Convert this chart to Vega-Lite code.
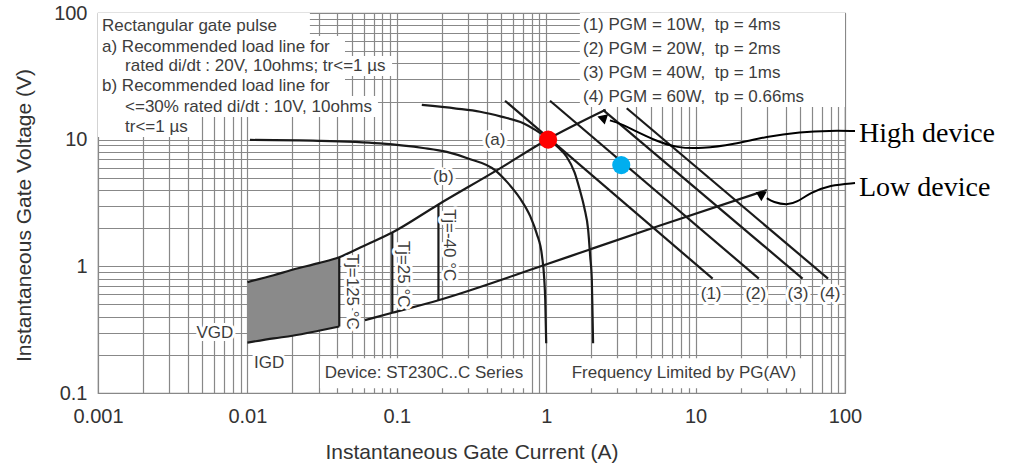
{
  "$schema": "https://vega.github.io/schema/vega-lite/v6.json",
  "width": 747,
  "height": 380,
  "autosize": {"type": "none"},
  "padding": {"left": 98, "top": 13, "right": 168, "bottom": 73},
  "background": "white",
  "config": {
    "view": {"stroke": "#8c8c8c", "strokeWidth": 1.2},
    "axis": {
      "grid": true,
      "gridColor": "#888888",
      "gridWidth": 1.2,
      "ticks": false,
      "tickSize": 0,
      "domain": false,
      "labelFont": "Liberation Sans",
      "labelFontSize": 20,
      "labelColor": "#333333",
      "labelFlush": false,
      "labelOverlap": false,
      "titleFont": "Liberation Sans",
      "titleFontSize": 21,
      "titleFontWeight": "normal",
      "titleColor": "#333333"
    }
  },
  "datasets": {
    "boxes": [
      {"I": 0.001, "I2": 0.0262, "V": 100, "V2": 65.8},
      {"I": 0.001, "I2": 0.045, "V": 65.8, "V2": 45.8},
      {"I": 0.001, "I2": 0.093, "V": 45.8, "V2": 31.8},
      {"I": 0.001, "I2": 0.045, "V": 31.8, "V2": 22.1},
      {"I": 0.001, "I2": 0.0748, "V": 22.1, "V2": 15.1},
      {"I": 0.001, "I2": 0.00446, "V": 15.1, "V2": 10.5},
      {"I": 1.68, "I2": 100, "V": 100, "V2": 18.1},
      {"I": 0.0306, "I2": 0.755, "V": 0.188, "V2": 0.109},
      {"I": 1.4, "I2": 52.4, "V": 0.188, "V2": 0.109}
    ],
    "shade": [
      {"I": 0.01, "V": 0.75, "V2": 0.25},
      {"I": 0.015, "V": 0.85, "V2": 0.27},
      {"I": 0.02, "V": 0.94, "V2": 0.283},
      {"I": 0.03, "V": 1.06, "V2": 0.31},
      {"I": 0.0412, "V": 1.18, "V2": 0.335}
    ],
    "curves": [
      {"id": "a", "I": 0.147, "V": 18.8},
      {"id": "a", "I": 0.25, "V": 17.6},
      {"id": "a", "I": 0.361, "V": 16.6},
      {"id": "a", "I": 0.5, "V": 15.2},
      {"id": "a", "I": 0.703, "V": 13.5},
      {"id": "a", "I": 0.85, "V": 11.9},
      {"id": "a", "I": 1.05, "V": 10.0},
      {"id": "a", "I": 1.2, "V": 8.7},
      {"id": "a", "I": 1.37, "V": 7.33},
      {"id": "a", "I": 1.55, "V": 5.5},
      {"id": "a", "I": 1.68, "V": 4.0},
      {"id": "a", "I": 1.8, "V": 2.9},
      {"id": "a", "I": 1.91, "V": 1.93},
      {"id": "a", "I": 1.97, "V": 1.2},
      {"id": "a", "I": 2.02, "V": 0.778},
      {"id": "a", "I": 2.04, "V": 0.45},
      {"id": "a", "I": 2.06, "V": 0.247},
      {"id": "b", "I": 0.0104, "V": 9.95},
      {"id": "b", "I": 0.03, "V": 9.8},
      {"id": "b", "I": 0.0772, "V": 9.35},
      {"id": "b", "I": 0.15, "V": 8.6},
      {"id": "b", "I": 0.216, "V": 8.0},
      {"id": "b", "I": 0.3, "V": 7.1},
      {"id": "b", "I": 0.454, "V": 5.75},
      {"id": "b", "I": 0.55, "V": 4.6},
      {"id": "b", "I": 0.668, "V": 3.44},
      {"id": "b", "I": 0.78, "V": 2.5},
      {"id": "b", "I": 0.863, "V": 1.82},
      {"id": "b", "I": 0.938, "V": 1.2},
      {"id": "b", "I": 0.97, "V": 0.8},
      {"id": "b", "I": 0.985, "V": 0.55},
      {"id": "b", "I": 1.0, "V": 0.247},
      {"id": "upper", "I": 0.01, "V": 0.75},
      {"id": "upper", "I": 0.015, "V": 0.85},
      {"id": "upper", "I": 0.02, "V": 0.94},
      {"id": "upper", "I": 0.03, "V": 1.06},
      {"id": "upper", "I": 0.0412, "V": 1.18},
      {"id": "upper", "I": 0.06, "V": 1.45},
      {"id": "upper", "I": 0.0933, "V": 1.85},
      {"id": "upper", "I": 0.19, "V": 3.08},
      {"id": "upper", "I": 0.469, "V": 5.75},
      {"id": "upper", "I": 1.0, "V": 9.9},
      {"id": "upper", "I": 2.5, "V": 17.2},
      {"id": "lower1", "I": 0.01, "V": 0.25},
      {"id": "lower1", "I": 0.015, "V": 0.27},
      {"id": "lower1", "I": 0.02, "V": 0.283},
      {"id": "lower1", "I": 0.03, "V": 0.31},
      {"id": "lower1", "I": 0.0412, "V": 0.335},
      {"id": "lower2", "I": 0.0612, "V": 0.376},
      {"id": "lower2", "I": 0.0933, "V": 0.43},
      {"id": "lower2", "I": 0.19, "V": 0.54},
      {"id": "lower2", "I": 0.94, "V": 1.01},
      {"id": "lower2", "I": 1.96, "V": 1.36},
      {"id": "lower2", "I": 5.78, "V": 2.1},
      {"id": "lower2", "I": 30, "V": 4.0},
      {"id": "tj125", "I": 0.0412, "V": 0.335},
      {"id": "tj125", "I": 0.0412, "V": 1.18},
      {"id": "tj25", "I": 0.0933, "V": 0.43},
      {"id": "tj25", "I": 0.0933, "V": 1.85},
      {"id": "tjm40", "I": 0.19, "V": 0.54},
      {"id": "tjm40", "I": 0.19, "V": 3.08},
      {"id": "p1", "I": 0.53, "V": 20.3},
      {"id": "p1", "I": 13, "V": 0.8},
      {"id": "p2", "I": 1.06, "V": 20.3},
      {"id": "p2", "I": 26.5, "V": 0.8},
      {"id": "p3", "I": 2.4, "V": 17.2},
      {"id": "p3", "I": 52, "V": 0.8},
      {"id": "p4", "I": 3.46, "V": 17.7},
      {"id": "p4", "I": 77, "V": 0.8}
    ],
    "labels": [
      {"kind": "c", "t": "(a)", "I": 0.454, "V": 9.93},
      {"kind": "c", "t": "(b)", "I": 0.2047, "V": 5.09},
      {"kind": "c", "t": "VGD", "I": 0.00606, "V": 0.295},
      {"kind": "c", "t": "IGD", "I": 0.01396, "V": 0.171},
      {"kind": "c", "t": "(1)", "I": 12.7, "V": 0.603},
      {"kind": "c", "t": "(2)", "I": 25.3, "V": 0.603},
      {"kind": "c", "t": "(3)", "I": 48.4, "V": 0.603},
      {"kind": "c", "t": "(4)", "I": 79.4, "V": 0.603},
      {"kind": "c", "t": "Device: ST230C..C Series", "I": 0.152, "V": 0.1434},
      {"kind": "c", "t": "Frequency Limited by PG(AV)", "I": 8.36, "V": 0.1434},
      {"kind": "r", "t": "Tj=125 °C", "I": 0.0499, "V": 0.63},
      {"kind": "r", "t": "Tj=25 °C", "I": 0.11, "V": 0.868},
      {"kind": "r", "t": "Tj=-40 °C", "I": 0.2236, "V": 1.47}
    ],
    "notes": [
      {"t": "Rectangular gate pulse", "I": 0.001064, "V": 78.9},
      {"t": "a) Recommended load line for", "I": 0.001064, "V": 54.2},
      {"t": "rated di/dt : 20V, 10ohms; tr<=1 µs", "I": 0.001517, "V": 38.1},
      {"t": "b) Recommended load line for", "I": 0.001064, "V": 26.6},
      {"t": "<=30% rated di/dt : 10V, 10ohms", "I": 0.001517, "V": 18.1},
      {"t": "tr<=1 µs", "I": 0.001517, "V": 12.6},
      {"t": "(1) PGM = 10W,\u00a0\u00a0tp = 4ms", "I": 1.763, "V": 80.4},
      {"t": "(2) PGM = 20W,\u00a0\u00a0tp = 2ms", "I": 1.763, "V": 51.9},
      {"t": "(3) PGM = 40W,\u00a0\u00a0tp = 1ms", "I": 1.763, "V": 33.6},
      {"t": "(4) PGM = 60W,\u00a0\u00a0tp = 0.66ms", "I": 1.763, "V": 21.7}
    ],
    "dots": [
      {"pt": "operating", "I": 1.03, "V": 10.0},
      {"pt": "alternate", "I": 3.18, "V": 6.3}
    ],
    "arrows": [
      {"id": "high", "I": 116.7, "V": 11.7},
      {"id": "high", "I": 80.0, "V": 11.8},
      {"id": "high", "I": 50.0, "V": 11.5},
      {"id": "high", "I": 30.0, "V": 10.6},
      {"id": "high", "I": 18.0, "V": 9.2},
      {"id": "high", "I": 11.0, "V": 8.5},
      {"id": "high", "I": 7.5, "V": 8.6},
      {"id": "high", "I": 5.4, "V": 9.8},
      {"id": "high", "I": 3.9, "V": 11.8},
      {"id": "high", "I": 3.12, "V": 13.4},
      {"id": "high", "I": 2.67, "V": 14.2},
      {"id": "low", "I": 116.7, "V": 4.54},
      {"id": "low", "I": 79.4, "V": 4.38},
      {"id": "low", "I": 58.3, "V": 3.79},
      {"id": "low", "I": 47.7, "V": 3.21},
      {"id": "low", "I": 40.9, "V": 3.04},
      {"id": "low", "I": 33.0, "V": 3.21},
      {"id": "low", "I": 30.0, "V": 3.45}
    ],
    "callouts": [
      {"t": "High device", "I": 124.0, "V": 9.57},
      {"t": "Low device", "I": 124.0, "V": 3.58}
    ]
  },
  "encoding": {
    "x": {
      "field": "I",
      "type": "quantitative",
      "scale": {"type": "log", "domain": [0.001, 100], "nice": false},
      "axis": {
        "title": "Instantaneous Gate Current (A)",
        "values": [0.001, 0.002, 0.003, 0.004, 0.005, 0.006, 0.007, 0.008, 0.009,
                   0.01, 0.02, 0.03, 0.04, 0.05, 0.06, 0.07, 0.08, 0.09,
                   0.1, 0.2, 0.3, 0.4, 0.5, 0.6, 0.7, 0.8, 0.9,
                   1, 2, 3, 4, 5, 6, 7, 8, 9,
                   10, 20, 30, 40, 50, 60, 70, 80, 90, 100],
        "labelExpr": "indexof(['0.001','0.01','0.1','1','10','100'], toString(datum.value)) >= 0 ? toString(datum.value) : ''",
        "labelPadding": 13,
        "titleY": 65,
        "titleBaseline": "alphabetic"
      }
    },
    "y": {
      "field": "V",
      "type": "quantitative",
      "scale": {"type": "log", "domain": [0.1, 100], "nice": false},
      "axis": {
        "title": "Instantaneous Gate Voltage (V)",
        "values": [0.1, 0.2, 0.3, 0.4, 0.5, 0.6, 0.7, 0.8, 0.9,
                   1, 2, 3, 4, 5, 6, 7, 8, 9,
                   10, 20, 30, 40, 50, 60, 70, 80, 90, 100],
        "labelExpr": "indexof(['0.1','1','10','100'], toString(datum.value)) >= 0 ? toString(datum.value) : ''",
        "labelPadding": 11,
        "titleX": -68,
        "titleY": 202,
        "titleAlign": "center",
        "titleBaseline": "alphabetic"
      }
    }
  },
  "layer": [
    {
      "data": {"name": "boxes"},
      "mark": {"type": "rect", "fill": "white", "stroke": null},
      "encoding": {"x2": {"field": "I2"}, "y2": {"field": "V2"}}
    },
    {
      "data": {"name": "shade"},
      "mark": {"type": "area", "fill": "#8a8a8a", "opacity": 1},
      "encoding": {"y2": {"field": "V2"}}
    },
    {
      "data": {"name": "curves"},
      "mark": {"type": "line", "stroke": "#1a1a1a", "strokeWidth": 2.2, "interpolate": "monotone"},
      "encoding": {"detail": {"field": "id"}}
    },
    {
      "data": {"name": "labels"},
      "transform": [{"filter": "datum.kind === 'c'"}],
      "mark": {"type": "text", "font": "Liberation Sans", "fontSize": 17, "align": "center", "baseline": "middle", "stroke": "white", "strokeWidth": 6, "strokeJoin": "round", "fill": "white"},
      "encoding": {"text": {"field": "t"}}
    },
    {
      "data": {"name": "labels"},
      "transform": [{"filter": "datum.kind === 'r'"}],
      "mark": {"type": "text", "font": "Liberation Sans", "fontSize": 17, "angle": 90, "align": "center", "baseline": "middle", "stroke": "white", "strokeWidth": 6, "strokeJoin": "round", "fill": "white"},
      "encoding": {"text": {"field": "t"}}
    },
    {
      "data": {"name": "labels"},
      "transform": [{"filter": "datum.kind === 'c'"}],
      "mark": {"type": "text", "font": "Liberation Sans", "fontSize": 17, "align": "center", "baseline": "middle", "fill": "#3d3d3d"},
      "encoding": {"text": {"field": "t"}}
    },
    {
      "data": {"name": "labels"},
      "transform": [{"filter": "datum.kind === 'r'"}],
      "mark": {"type": "text", "font": "Liberation Sans", "fontSize": 17, "angle": 90, "align": "center", "baseline": "middle", "fill": "#3d3d3d"},
      "encoding": {"text": {"field": "t"}}
    },
    {
      "data": {"name": "notes"},
      "mark": {"type": "text", "font": "Liberation Sans", "fontSize": 17, "align": "left", "baseline": "middle", "fill": "#3d3d3d"},
      "encoding": {"text": {"field": "t"}}
    },
    {
      "data": {"name": "dots"},
      "mark": {"type": "point", "filled": true, "opacity": 1, "size": 330, "shape": "circle"},
      "encoding": {
        "color": {
          "field": "pt",
          "type": "nominal",
          "scale": {"domain": ["operating", "alternate"], "range": ["#ff0000", "#00aeef"]},
          "legend": null
        }
      }
    },
    {
      "data": {"name": "arrows"},
      "mark": {"type": "line", "stroke": "black", "strokeWidth": 2, "interpolate": "basis", "clip": false},
      "encoding": {"detail": {"field": "id"}}
    },
    {
      "data": {"name": "arrows"},
      "transform": [{"filter": "datum.id === 'high'"}, {"filter": "datum.I < 2.7"}],
      "mark": {"type": "point", "shape": "triangle-left", "filled": true, "fill": "black", "opacity": 1, "size": 120, "angle": 18, "xOffset": -8, "yOffset": -2.5}
    },
    {
      "data": {"name": "arrows"},
      "transform": [{"filter": "datum.id === 'low'"}, {"filter": "datum.I < 31"}],
      "mark": {"type": "point", "shape": "triangle-left", "filled": true, "fill": "black", "opacity": 1, "size": 120, "angle": 29, "xOffset": -7, "yOffset": -4}
    },
    {
      "data": {"name": "callouts"},
      "mark": {"type": "text", "font": "Liberation Serif", "fontSize": 28, "align": "left", "baseline": "alphabetic", "fill": "black", "clip": false},
      "encoding": {"text": {"field": "t"}}
    }
  ]
}
